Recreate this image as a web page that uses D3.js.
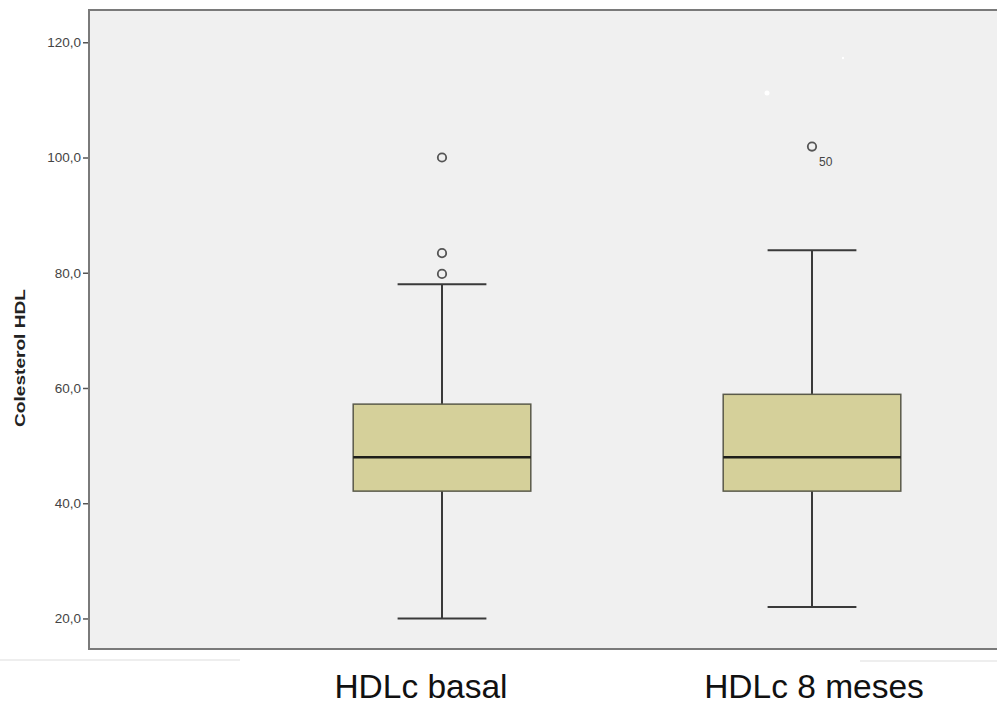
<!DOCTYPE html>
<html>
<head>
<meta charset="utf-8">
<script src="https://cdn.jsdelivr.net/npm/d3@7"></script>
<style>
  body { margin: 0; background: #fff; }
  svg { display: block; font-family: "Liberation Sans", Arial, sans-serif; }
</style>
</head>
<body>
<div id="chart"></div>
<script>
// categories and box statistics
var categories = ["HDLc basal", "HDLc 8 meses"];
var whiskerLow = [20.0, 22.0];
var q1 = [42.1, 42.1];
var medians = [48.0, 48.0];
var q3 = [57.2, 58.9];
var whiskerHigh = [78.0, 83.9];
var outliers = [[100.0, 83.4, 79.8], [101.9]];
var outlierIds = [[], ["50"]];
var yTicks = [20, 40, 60, 80, 100, 120];

var width = 997, height = 706;
var plot = { left: 89, top: 10, right: 997, bottom: 649 };

var svg = d3.select("#chart").append("svg")
  .attr("width", width)
  .attr("height", height);

var y = d3.scaleLinear()
  .domain([14.7, 125.6])
  .range([plot.bottom, plot.top]);

var x = d3.scaleBand()
  .domain(categories)
  .range([257, 997])
  .paddingInner(0.52)
  .paddingOuter(0.26);

var locale = d3.formatLocale({ decimal: ",", thousands: ".", grouping: [3], currency: ["", ""] });
var fmt = locale.format(".1f");

// plot background
svg.append("rect")
  .attr("x", plot.left)
  .attr("y", plot.top)
  .attr("width", plot.right - plot.left)
  .attr("height", plot.bottom - plot.top)
  .attr("fill", "#f0f0f0");

// faint lines under the frame
svg.append("line").attr("x1", 0).attr("x2", 240).attr("y1", 660).attr("y2", 660)
  .attr("stroke", "#eeeeee").attr("stroke-width", 2);
svg.append("line").attr("x1", 860).attr("x2", 997).attr("y1", 661).attr("y2", 661)
  .attr("stroke", "#eeeeee").attr("stroke-width", 2);

// small white specks inside the plot area
svg.append("circle").attr("cx", 767).attr("cy", 93).attr("r", 2.5).attr("fill", "#fff");
svg.append("circle").attr("cx", 843).attr("cy", 58).attr("r", 1.2).attr("fill", "#fff");

// y axis
var yAxis = svg.append("g")
  .attr("transform", "translate(" + plot.left + ",0)")
  .call(d3.axisLeft(y).tickValues(yTicks).tickFormat(fmt).tickSize(6).tickPadding(2));
yAxis.select(".domain").remove();
yAxis.selectAll(".tick line").attr("stroke", "#555").attr("stroke-width", 1.5);
yAxis.selectAll(".tick text")
  .attr("fill", "#444")
  .style("font-size", "13.5px")
  .style("font-family", "Liberation Sans, Arial, sans-serif");

// frame: left, top, bottom
var frame = svg.append("g").attr("stroke", "#7a7a7a").attr("stroke-width", 2).attr("fill", "none");
frame.append("path")
  .attr("d", "M" + plot.right + "," + plot.top + "H" + plot.left + "V" + plot.bottom + "H" + plot.right);

// y title
svg.append("text")
  .attr("transform", "translate(25,358) rotate(-90)")
  .attr("text-anchor", "middle")
  .attr("textLength", 138)
  .attr("lengthAdjust", "spacingAndGlyphs")
  .style("font-size", "14px")
  .style("font-weight", "bold")
  .attr("fill", "#222")
  .text("Colesterol HDL");

var boxes = svg.selectAll(".box")
  .data(categories)
  .enter()
  .append("g")
  .attr("class", "box");

// whiskers
boxes.append("line")
  .attr("x1", function(d) { return x(d) + x.bandwidth() / 2; })
  .attr("x2", function(d) { return x(d) + x.bandwidth() / 2; })
  .attr("y1", function(d, i) { return y(whiskerLow[i]); })
  .attr("y2", function(d, i) { return y(whiskerHigh[i]); })
  .attr("stroke", "#3a3a3a")
  .attr("stroke-width", 2);

// caps
[whiskerLow, whiskerHigh].forEach(function(arr) {
  boxes.append("line")
    .attr("x1", function(d) { return x(d) + x.bandwidth() / 4; })
    .attr("x2", function(d) { return x(d) + x.bandwidth() * 3 / 4; })
    .attr("y1", function(d, i) { return y(arr[i]); })
    .attr("y2", function(d, i) { return y(arr[i]); })
    .attr("stroke", "#3a3a3a")
    .attr("stroke-width", 2);
});

// box
boxes.append("rect")
  .attr("x", function(d) { return x(d); })
  .attr("width", x.bandwidth())
  .attr("y", function(d, i) { return y(q3[i]); })
  .attr("height", function(d, i) { return y(q1[i]) - y(q3[i]); })
  .attr("fill", "#d5d09a")
  .attr("stroke", "#5a5a4a")
  .attr("stroke-width", 1.5);

// median
boxes.append("line")
  .attr("x1", function(d) { return x(d); })
  .attr("x2", function(d) { return x(d) + x.bandwidth(); })
  .attr("y1", function(d, i) { return y(medians[i]); })
  .attr("y2", function(d, i) { return y(medians[i]); })
  .attr("stroke", "#1e1e1a")
  .attr("stroke-width", 2.5);

// outliers
categories.forEach(function(c, i) {
  var cx = x(c) + x.bandwidth() / 2;
  outliers[i].forEach(function(v, j) {
    svg.append("circle")
      .attr("cx", cx)
      .attr("cy", y(v))
      .attr("r", 4.2)
      .attr("fill", "none")
      .attr("stroke", "#555")
      .attr("stroke-width", 1.8);
    if (outlierIds[i][j]) {
      svg.append("text")
        .attr("x", cx + 7)
        .attr("y", y(v) + 19)
        .style("font-size", "12px")
        .attr("fill", "#444")
        .text(outlierIds[i][j]);
    }
  });
});

// category labels
var labelShift = [-21, 2];
svg.selectAll(".cat")
  .data(categories)
  .enter()
  .append("text")
  .attr("class", "cat")
  .attr("x", function(d, i) { return x(d) + x.bandwidth() / 2 + labelShift[i]; })
  .attr("y", 698)
  .attr("text-anchor", "middle")
  .style("font-size", "33.5px")
  .attr("fill", "#111")
  .text(function(d) { return d; });
</script>
</body>
</html>
